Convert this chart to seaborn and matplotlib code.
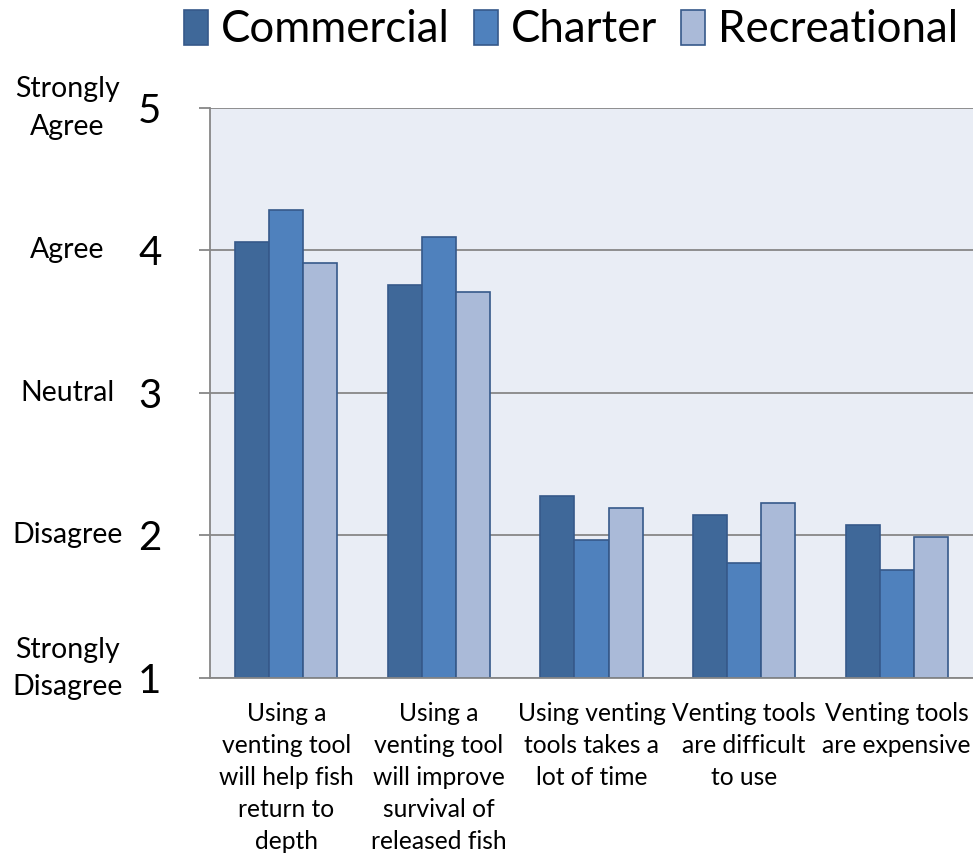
import pandas as pd
import matplotlib.pyplot as plt
import seaborn as sns

# DATA

statements = [
    "Using a\nventing tool\nwill help fish\nreturn to\ndepth",
    "Using a\nventing tool\nwill improve\nsurvival of\nreleased fish",
    "Using venting\ntools takes a\nlot of time",
    "Venting tools\nare difficult\nto use",
    "Venting tools\nare expensive",
]
groups = ["Commercial", "Charter", "Recreational"]

commercial = [4.06, 3.76, 2.28, 2.14, 2.07]
charter = [4.28, 4.09, 1.97, 1.81, 1.76]
recreational = [3.91, 3.71, 2.19, 2.23, 1.99]

scale_values = [1, 2, 3, 4, 5]
scale_names = ["Strongly\nDisagree", "Disagree", "Neutral", "Agree", "Strongly\nAgree"]

colors = ["#3F6899", "#4F81BD", "#AABAD8"]

# LONG TABLE

df = pd.DataFrame({
    "Statement": statements * 3,
    "Group": [g for g in groups for _ in statements],
    "Score": commercial + charter + recreational,
})
# bars start at 1 (Strongly Disagree)
df["Height"] = df["Score"] - 1

# PLOT

sns.set_style("white")
plt.rcParams["font.family"] = ["Lato", "DejaVu Sans"]
plt.rcParams["text.color"] = "black"
plt.rcParams["xtick.color"] = "black"
plt.rcParams["ytick.color"] = "black"

fig = plt.figure(figsize=(9.73, 8.55), dpi=100)
ax = fig.add_axes([0.2158, 0.207, 0.7842, 0.667])
ax.set_facecolor("#E9EDF5")

sns.barplot(
    data=df,
    x="Statement",
    y="Height",
    hue="Group",
    palette=colors,
    saturation=1,
    width=0.67,
    bottom=1,
    edgecolor="#36598A",
    linewidth=1.2,
    legend=False,
    ax=ax,
)

ax.set_xlim(-0.5, 4.5)
ax.set_ylim(1, 5)
ax.set_yticks(scale_values)
ax.set_yticklabels([str(v) for v in scale_values], fontsize=29)
ax.yaxis.grid(True, color="#878787", linewidth=1.3)
ax.set_axisbelow(True)

ax.set_xticks(range(len(statements)))
ax.set_xticklabels(statements, fontsize=17.7, linespacing=1.48, va="top")
ax.set_xticks([i - 0.5 for i in range(len(statements) + 1)], minor=True)
ax.tick_params(axis="x", which="major", length=0, pad=17)
ax.tick_params(axis="x", which="minor", length=8, color="#878787", width=1.3)
ax.tick_params(axis="y", length=8, color="#878787", width=1.3, pad=27, left=True)

for side in ["top", "right"]:
    ax.spines[side].set_visible(False)
for side in ["left", "bottom"]:
    ax.spines[side].set_color("#878787")
    ax.spines[side].set_linewidth(1.3)

ax.set_xlabel("")
ax.set_ylabel("")

# scale names left of the numbers
for v, name in zip(scale_values, scale_names):
    shift = 7 if v == 1 else 0
    ax.annotate(name, xy=(-0.187, v), xycoords=ax.get_yaxis_transform(),
                xytext=(0, shift), textcoords="offset points",
                ha="center", va="center", fontsize=20.5, linespacing=1.55)

handles = [plt.Rectangle((0, 0), 1, 1, facecolor=c, edgecolor="#36598A", linewidth=1.2)
           for c in colors]
fig.legend(handles, groups, loc="center", bbox_to_anchor=(0.587, 0.965), ncol=3,
           frameon=False, fontsize=31.5, handlelength=0.55, handleheight=0.85,
           handletextpad=0.3, columnspacing=0.55)

plt.savefig("out.png", dpi=100)
